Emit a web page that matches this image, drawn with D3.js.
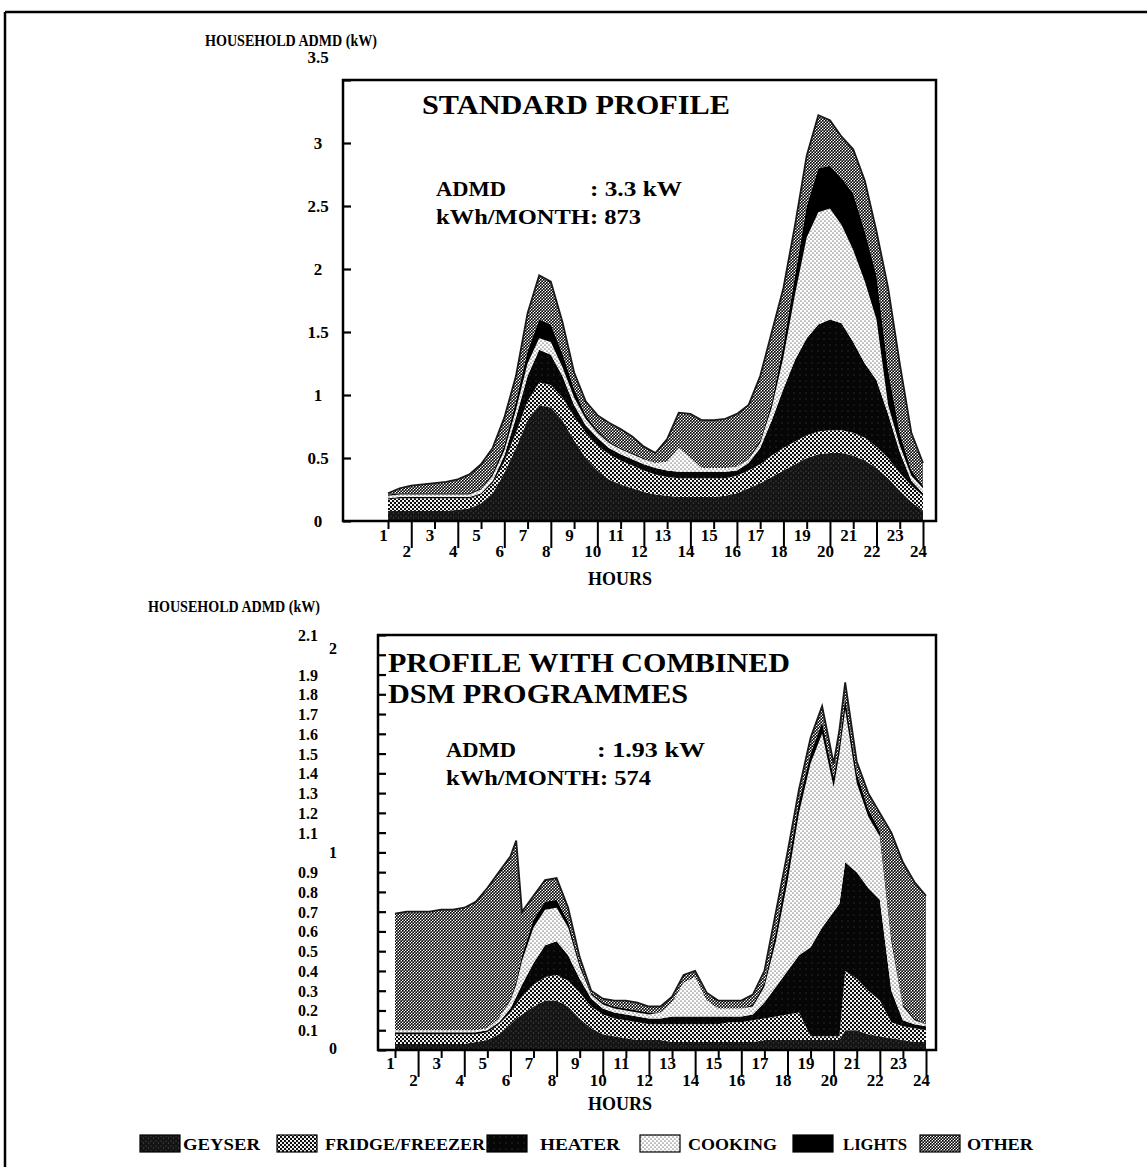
<!DOCTYPE html>
<html>
<head>
<meta charset="utf-8">
<script src="https://cdn.jsdelivr.net/npm/d3@7"></script>
<style>
body { margin: 0; background: #fff; }
text { font-family: "Liberation Serif", "Times New Roman", serif; font-weight: bold; fill: #000; }
</style>
</head>
<body>
<div id="chart"></div>
<script>
// series names (stack order, bottom to top)
var seriesNames = ["GEYSER", "FRIDGE/FREEZER", "HEATER", "COOKING", "LIGHTS", "OTHER"];

// ---- standard profile (kW per end use, half hourly) ----
var stdHours = [1,1.5,2,2.5,3,3.5,4,4.5,5,5.5,6,6.5,7,7.5,8,8.5,9,9.5,10,10.5,11,11.5,12,12.5,
  13,13.5,14,14.5,15,15.5,16,16.5,17,17.5,18,18.5,19,19.5,20,20.5,21,21.5,22,22.5,23,23.5,24];
var stdGeyser = [.08,.08,.08,.08,.08,.08,.09,.10,.14,.22,.38,.58,.80,.92,.90,.80,.64,.50,.40,.33,.29,.26,.23,.21,
  .20,.19,.19,.19,.19,.20,.22,.26,.30,.35,.40,.45,.50,.53,.54,.54,.52,.48,.42,.34,.24,.15,.08];
var stdFridge = [.09,.10,.10,.10,.10,.10,.09,.08,.07,.08,.09,.12,.15,.18,.18,.18,.19,.20,.20,.20,.19,.18,.17,.16,
  .15,.15,.15,.15,.15,.14,.14,.14,.15,.17,.18,.18,.18,.18,.18,.18,.18,.18,.17,.16,.14,.13,.12];
var stdHeater = [.01,.01,.01,.01,.01,.01,.01,.01,.01,.02,.05,.12,.20,.26,.24,.17,.09,.06,.06,.05,.05,.05,.05,.05,
  .05,.05,.05,.05,.05,.05,.04,.06,.13,.28,.47,.65,.77,.85,.88,.85,.72,.59,.53,.35,.17,.04,.02];
var stdCooking = [.02,.02,.02,.02,.02,.02,.02,.02,.03,.04,.04,.06,.10,.09,.10,.07,.06,.05,.04,.04,.04,.04,.04,.04,
  .07,.19,.11,.03,.03,.03,.03,.03,.04,.10,.25,.52,.80,.89,.88,.78,.73,.65,.48,.07,.05,.04,.04];
var stdLights = [.01,.01,.01,.01,.01,.01,.01,.01,.01,.02,.04,.07,.10,.15,.14,.11,.07,.03,.02,.01,.01,.01,.01,0,
  0,0,0,0,0,0,0,.01,.02,.04,.10,.15,.25,.35,.34,.37,.45,.40,.35,.28,.10,.04,.02];
var stdOther = [.01,.04,.06,.07,.08,.09,.11,.15,.19,.20,.22,.20,.30,.35,.34,.25,.13,.11,.12,.15,.15,.13,.09,.08,
  .18,.28,.35,.38,.38,.39,.42,.42,.51,.56,.45,.40,.40,.42,.36,.33,.35,.40,.35,.65,.55,.30,.18];

// ---- profile with combined DSM programmes ----
var dsmHours = [1,1.5,2,2.5,3,3.5,4,4.5,5,5.5,6,6.25,6.5,7,7.5,8,8.5,9,9.5,10,10.5,11,11.5,12,12.5,
  13,13.5,14,14.5,15,15.5,16,16.5,17,17.5,18,18.5,19,19.5,20,20.25,20.5,21,21.5,22,22.5,23,23.5,24];
var dsmGeyser = [.03,.03,.03,.03,.03,.03,.03,.04,.05,.08,.13,.16,.18,.22,.25,.25,.22,.16,.11,.08,.07,.06,.05,.05,.05,
  .04,.04,.04,.04,.04,.04,.04,.04,.05,.05,.05,.05,.05,.05,.05,.05,.10,.10,.08,.07,.06,.05,.04,.04];
var dsmFridge = [.05,.05,.05,.05,.05,.05,.05,.04,.04,.05,.06,.07,.09,.11,.12,.13,.13,.13,.11,.10,.09,.09,.09,.08,.08,
  .09,.09,.09,.09,.09,.10,.10,.11,.11,.12,.13,.14,.02,.02,.02,.02,.30,.26,.22,.18,.08,.07,.07,.06];
var dsmHeater = [.01,.01,.01,.01,.01,.01,.01,.01,.01,.01,.02,.04,.06,.11,.16,.17,.13,.07,.04,.03,.03,.03,.03,.03,.03,
  .04,.04,.04,.04,.04,.03,.03,.03,.08,.15,.22,.29,.45,.55,.63,.67,.55,.54,.52,.51,.16,.03,.02,.02];
var dsmCooking = [.01,.01,.01,.01,.01,.01,.01,.01,.01,.02,.04,.06,.12,.18,.18,.17,.14,.06,.02,.02,.02,.02,.02,.02,.03,
  .07,.17,.20,.08,.04,.04,.04,.04,.08,.23,.45,.72,.93,.98,.63,.76,.77,.45,.36,.32,.25,.07,.02,.01];
var dsmLights = [0,0,0,0,0,0,0,0,0,0,.01,.02,.03,.04,.04,.04,.03,.02,.01,.01,.01,.01,.01,.01,0,
  0,0,0,0,0,0,0,.01,.02,.05,.07,.06,.05,.06,.05,.05,.06,.05,.04,.03,.03,.01,.01,0];
var dsmOther = [.59,.60,.60,.60,.61,.61,.62,.65,.71,.74,.72,.71,.22,.12,.11,.11,.07,.03,.01,.02,.03,.04,.04,.03,.03,
  .03,.04,.03,.04,.04,.04,.04,.05,.06,.10,.08,.06,.08,.08,.07,.07,.08,.06,.08,.09,.52,.72,.69,.65];

var hourTicks = d3.range(1, 25);
var stdYTicks = [0, 0.5, 1, 1.5, 2, 2.5, 3, 3.5];
var dsmYTicks = d3.range(0, 22).map(function(d) { return d / 10; });

var svg = d3.select("#chart").append("svg").attr("width", 1147).attr("height", 1167);
var defs = svg.append("defs");

// halftone-like fills of the scanned original
function makePattern(id, size, bg, dots, color, r) {
  var p = defs.append("pattern").attr("id", id).attr("patternUnits", "userSpaceOnUse")
    .attr("width", size).attr("height", size);
  p.append("rect").attr("width", size).attr("height", size).attr("fill", bg);
  dots.forEach(function(d) {
    p.append("circle").attr("cx", d[0]).attr("cy", d[1]).attr("r", r).attr("fill", color);
  });
}
makePattern("pGeyser", 5, "#141414", [[1, 1], [3.5, 3]], "#6e6e6e", 0.5);
makePattern("pFridge", 4, "#fff", [[1, 1], [3, 3]], "#000", 1.15);
makePattern("pHeater", 6, "#060606", [[2, 3]], "#555", 0.5);
makePattern("pCooking", 4, "#fff", [[1, 1], [3, 3]], "#000", 0.6);
makePattern("pLights", 4, "#000", [], "#000", 0);
makePattern("pOther", 3, "#fff", [[0.75, 0.75], [2.25, 2.25]], "#000", 0.98);
var fills = ["url(#pGeyser)", "url(#pFridge)", "url(#pHeater)", "url(#pCooking)", "url(#pLights)", "url(#pOther)"];

// outer border of the page
svg.append("line").attr("x1", 5).attr("y1", 12).attr("x2", 1147).attr("y2", 12).attr("stroke", "#000").attr("stroke-width", 2.5);
svg.append("line").attr("x1", 5).attr("y1", 12).attr("x2", 5).attr("y2", 1167).attr("stroke", "#000").attr("stroke-width", 2.5);

function buildRows(hours, cols) {
  return hours.map(function(h, i) {
    var row = { hour: h };
    seriesNames.forEach(function(k, j) { row[k] = cols[j][i]; });
    return row;
  });
}

function drawChart(cfg) {
  var rows = buildRows(cfg.hours, cfg.cols);
  var x = d3.scaleLinear().domain([1, 24]).range(cfg.xRange);
  var y = d3.scaleLinear().domain(cfg.yDomain).range([cfg.bottom, cfg.top]);
  var stacked = d3.stack().keys(seriesNames)(rows);

  var area = d3.area()
    .x(function(d) { return x(d.data.hour); })
    .y0(function(d) { return y(d[0]); })
    .y1(function(d) { return y(d[1]); });

  svg.append("g").selectAll("path").data(stacked).join("path")
    .attr("d", area)
    .attr("fill", function(d, i) { return fills[i]; });

  // dark envelope edge
  var top = stacked[stacked.length - 1];
  svg.append("path").datum(top)
    .attr("d", d3.line().x(function(d) { return x(d.data.hour); }).y(function(d) { return y(d[1]); }))
    .attr("fill", "none").attr("stroke", "#1a1a1a").attr("stroke-width", 1.8);

  // frame
  svg.append("rect").attr("x", cfg.left).attr("y", cfg.top)
    .attr("width", cfg.right - cfg.left).attr("height", cfg.bottom - cfg.top)
    .attr("fill", "none").attr("stroke", "#000").attr("stroke-width", 2.5);

  // y ticks (inward)
  var yAxis = svg.append("g").attr("transform", "translate(" + cfg.left + ",0)")
    .call(d3.axisLeft(y).tickValues(cfg.yTicks).tickSize(-8).tickFormat(""));
  yAxis.select(".domain").remove();
  yAxis.selectAll("line").attr("stroke", "#000").attr("stroke-width", 2.2);

  svg.append("g").selectAll("text").data(cfg.yTicks).join("text")
    .attr("x", function(d) { return cfg.yLabelX(d); })
    .attr("y", function(d) { return y(d) + cfg.yLabelDy(d); })
    .attr("text-anchor", function(d) { return cfg.yLabelAnchor(d); })
    .attr("font-size", cfg.yFont)
    .text(function(d) { return cfg.yFormat(d); });

  // hour axis: odd labels on the upper row, even labels lower with long ticks
  var xAxis = svg.append("g").attr("transform", "translate(0," + cfg.bottom + ")")
    .call(d3.axisBottom(x).tickValues(hourTicks).tickSize(7).tickFormat(function(d) { return d; }));
  xAxis.select(".domain").remove();
  xAxis.selectAll(".tick line").attr("stroke", "#000").attr("stroke-width", 2)
    .attr("y2", function(d) { return d % 2 === 0 ? 27 : 8; });
  xAxis.selectAll(".tick text")
    .attr("x", -5)
    .attr("y", function(d) { return d % 2 === 0 ? cfg.evenY : cfg.oddY; })
    .attr("dy", 0)
    .attr("font-size", 17)
    .attr("font-family", "Liberation Serif, serif")
    .attr("font-weight", "bold")
    .attr("fill", "#000");

  svg.append("text").attr("x", 620).attr("y", cfg.bottom + cfg.hoursY).attr("text-anchor", "middle")
    .attr("font-size", 19).attr("textLength", 64).attr("lengthAdjust", "spacingAndGlyphs").text("HOURS");

  svg.append("text").attr("x", cfg.unitX).attr("y", cfg.unitY).attr("font-size", 16)
    .attr("textLength", 172).attr("lengthAdjust", "spacingAndGlyphs").text("HOUSEHOLD ADMD (kW)");

  cfg.title.forEach(function(t, i) {
    svg.append("text").attr("x", cfg.titleX).attr("y", cfg.titleY + i * 31).attr("font-size", 28)
      .attr("textLength", cfg.titleLen[i]).attr("lengthAdjust", "spacingAndGlyphs").text(t);
  });
  svg.append("text").attr("x", cfg.noteX).attr("y", cfg.noteY).attr("font-size", 21)
    .attr("textLength", 70).attr("lengthAdjust", "spacingAndGlyphs").text("ADMD");
  svg.append("text").attr("x", cfg.noteX2).attr("y", cfg.noteY).attr("font-size", 21)
    .attr("textLength", cfg.noteLen2).attr("lengthAdjust", "spacingAndGlyphs").text(cfg.admd);
  svg.append("text").attr("x", cfg.noteX).attr("y", cfg.noteY + 28).attr("font-size", 21)
    .attr("textLength", 205).attr("lengthAdjust", "spacingAndGlyphs").text(cfg.kwh);
}

drawChart({
  hours: stdHours,
  cols: [stdGeyser, stdFridge, stdHeater, stdCooking, stdLights, stdOther],
  xRange: [388, 923], yDomain: [0, 3.5], yTicks: stdYTicks,
  left: 343, right: 936, top: 80, bottom: 521,
  yLabelX: function(d) { return 318; },
  yLabelDy: function(d) { return d === 3.5 ? -17 : 6; },
  yLabelAnchor: function(d) { return "middle"; },
  yFormat: function(d) { return String(d); },
  yFont: 17,
  oddY: 20, evenY: 36, hoursY: 64,
  unitX: 205, unitY: 46,
  title: ["STANDARD PROFILE"], titleX: 422, titleY: 114, titleLen: [308],
  noteX: 436, noteX2: 590, noteY: 196, noteLen2: 92,
  admd: ": 3.3 kW", kwh: "kWh/MONTH: 873"
});

drawChart({
  hours: dsmHours,
  cols: [dsmGeyser, dsmFridge, dsmHeater, dsmCooking, dsmLights, dsmOther],
  xRange: [395, 926], yDomain: [0, 2.1], yTicks: dsmYTicks,
  left: 378, right: 936, top: 635, bottom: 1050,
  yLabelX: function(d) { return (d === 1 || d === 2 || d === 0) ? 333 : 318; },
  yLabelDy: function(d) { return d === 2 ? -1 : d === 0 ? 4 : 6; },
  yLabelAnchor: function(d) { return (d === 1 || d === 2 || d === 0) ? "middle" : "end"; },
  yFormat: function(d) { return d3.format(".2~f")(d); },
  yFont: 16,
  oddY: 19, evenY: 36, hoursY: 60,
  unitX: 148, unitY: 612,
  title: ["PROFILE WITH COMBINED", "DSM PROGRAMMES"], titleX: 388, titleY: 672, titleLen: [402, 300],
  noteX: 446, noteX2: 597, noteY: 757, noteLen2: 108,
  admd: ": 1.93 kW", kwh: "kWh/MONTH: 574"
});

// legend
var legendSwatchX = [140, 277, 487, 640, 793, 920];
var legendTextX = [183, 325, 540, 688, 843, 967];
var legendTextLen = [77, 160, 80, 89, 64, 66];
var legend = svg.append("g").selectAll("g").data(seriesNames).join("g");
legend.append("rect")
  .attr("x", function(d, i) { return legendSwatchX[i]; }).attr("y", 1135)
  .attr("width", 40).attr("height", 17)
  .attr("fill", function(d, i) { return fills[i]; })
  .attr("stroke", "#000").attr("stroke-width", 1.2);
legend.append("text")
  .attr("x", function(d, i) { return legendTextX[i]; }).attr("y", 1150)
  .attr("font-size", 17)
  .attr("textLength", function(d, i) { return legendTextLen[i]; })
  .attr("lengthAdjust", "spacingAndGlyphs")
  .text(function(d) { return d; });
</script>
</body>
</html>
